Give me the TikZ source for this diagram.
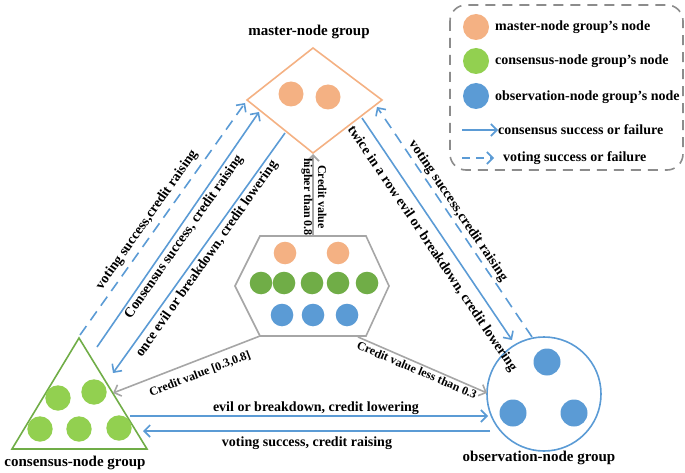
\documentclass[tikz,border=0pt]{standalone}
\usepackage{fontspec}
\setmainfont{Liberation Serif}
\usetikzlibrary{arrows.meta}

\definecolor{peach}{HTML}{F4B183}
\definecolor{leaf}{HTML}{92D050}
\definecolor{moss}{HTML}{70AD47}
\definecolor{sky}{HTML}{5B9BD5}
\definecolor{ash}{HTML}{A6A6A6}
\definecolor{slate}{HTML}{8C8C8C}

\tikzset{
	flow/.style={line width=1.6pt, color=sky, -{Straight Barb[length=6pt,width=12pt]}},
	vote/.style={flow, dash pattern=on 11pt off 7pt},
	credit/.style={line width=1.6pt, color=ash, -{Straight Barb[length=6pt,width=12pt]}},
	grouptext/.style={font=\fontsize{15}{17}\selectfont\bfseries, inner sep=0pt},
	edgetext/.style={font=\fontsize{14}{16}\selectfont\bfseries, inner sep=0pt},
	credittext/.style={font=\fontsize{12}{14}\selectfont\bfseries, inner sep=0pt, align=center},
	legendtext/.style={font=\fontsize{14}{16}\selectfont\bfseries, inner sep=0pt, anchor=west},
}

\begin{document}
\begin{tikzpicture}[x=1pt, y=-1pt]
			%%%%% START %%%%%
			\useasboundingbox (0, 0) rectangle (685, 473);
			
			% master-node group
			\draw[line width=1.6pt, color=peach] (313, 48) -- (382, 100) -- (313, 153) -- (247, 100) -- cycle;
			\fill[peach] (291, 94) circle (12.5);
			\fill[peach] (328, 97) circle (12.5);
			\node[grouptext] (lblMaster) at (309, 32) {master-node group};
			
			% consensus-node group
			\draw[line width=1.6pt, color=moss] (79, 338) -- (147, 449) -- (12, 449) -- cycle;
			\fill[leaf] (58, 398) circle (12.7);
			\fill[leaf] (94, 392) circle (12.7);
			\fill[leaf] (40, 429) circle (12.7);
			\fill[leaf] (79, 429) circle (12.7);
			\fill[leaf] (119, 428) circle (12.7);
			\node[grouptext] (lblConsensus) at (75, 463) {consensus-node group};
			
			% observation-node group
			\draw[line width=1.6pt, color=sky] (544, 394) circle (57);
			\fill[sky] (547, 362) circle (13.5);
			\fill[sky] (513, 413) circle (13.5);
			\fill[sky] (574, 413) circle (13.5);
			\node[grouptext] (lblObserve) at (539, 458) {observation-node group};
			
			% all nodes
			\draw[line width=1.6pt, color=ash] (260, 236) -- (366, 236) -- (389, 286) -- (366, 336) -- (260, 336) -- (235, 286) -- cycle;
			\fill[peach] (285, 253) circle (11.3);
			\fill[peach] (338, 253) circle (11.3);
			\fill[moss] (261, 283) circle (11.3);
			\fill[moss] (284, 283) circle (11.3);
			\fill[moss] (312, 283) circle (11.3);
			\fill[moss] (338, 283) circle (11.3);
			\fill[moss] (367, 283) circle (11.3);
			\fill[sky] (282, 315) circle (11.3);
			\fill[sky] (313, 315) circle (11.3);
			\fill[sky] (347, 315) circle (11.3);
			
			% connector ends
			\coordinate (voteLa) at (80, 335);
			\coordinate (voteLb) at (245, 103);
			\coordinate (consLa) at (97, 347);
			\coordinate (consLb) at (259, 112);
			\coordinate (onceLa) at (285, 133);
			\coordinate (onceLb) at (113, 373);
			\coordinate (twiceRa) at (362, 118);
			\coordinate (twiceRb) at (512, 340);
			\coordinate (voteRa) at (532, 337);
			\coordinate (voteRb) at (377, 107);
			\coordinate (evilBa) at (130, 416);
			\coordinate (evilBb) at (488, 416);
			\coordinate (voteBa) at (490, 431);
			\coordinate (voteBb) at (143, 431);
			\coordinate (highA) at (313, 236);
			\coordinate (highB) at (313, 154);
			\coordinate (midA) at (260, 336);
			\coordinate (midB) at (113, 393);
			\coordinate (lowA) at (358, 337);
			\coordinate (lowB) at (487, 393);
			
			% master <-> consensus
			\draw[vote] (voteLa) -- (voteLb);
			\draw[flow] (consLa) -- (consLb);
			\draw[flow] (onceLa) -- (onceLb);
			\node[edgetext, rotate=55] (lblVoteL) at (147, 220) {voting success,credit raising};
			\node[edgetext, rotate=55] (lblConsL) at (184, 237) {Consensus success, credit raising};
			\node[edgetext, rotate=55] (lblOnceL) at (207, 259) {once evil or breakdown, credit lowering};
			
			% master <-> observation
			\draw[flow] (twiceRa) -- (twiceRb);
			\draw[vote] (voteRa) -- (voteRb);
			\node[edgetext, rotate=-56] (lblTwiceR) at (432, 249) {twice in a row evil or breakdown, credit lowering};
			\node[edgetext, rotate=-56] (lblVoteR) at (458, 211) {voting success,credit raising};
			
			% consensus <-> observation
			\draw[flow] (evilBa) -- (evilBb);
			\draw[flow] (voteBa) -- (voteBb);
			\node[edgetext] (lblEvilB) at (316, 408) {evil or breakdown, credit lowering};
			\node[edgetext] (lblVoteB) at (307, 443) {voting success, credit raising};
			
			% credit value
			\draw[credit] (highA) -- (highB);
			\draw[credit] (midA) -- (midB);
			\draw[credit] (lowA) -- (lowB);
			\node[credittext, rotate=-90] (lblHigh) at (314, 197) {Credit value\\higher than 0.8};
			\node[credittext, rotate=21] (lblMid) at (200, 374) {Credit value [0.3,0.8]};
			\node[credittext, rotate=-23] (lblLow) at (417, 370) {Credit value less than 0.3};
			
			% legend
			\draw[line width=1.6pt, color=slate, dash pattern=on 10pt off 7pt, rounded corners=16pt] (450, 5) rectangle (683, 170);
			\fill[peach] (476, 27) circle (13);
			\node[legendtext] (lgMaster) at (495, 27) {master-node group's node};
			\fill[leaf] (476, 61) circle (13);
			\node[legendtext] (lgConsensus) at (495, 61) {consensus-node group's node};
			\fill[sky] (476, 96) circle (13);
			\node[legendtext] (lgObserve) at (495, 97) {observation-node group's node};
			\coordinate (lgFlowA) at (462, 130);
			\node[legendtext] (lgFlow) at (498, 130) {consensus success or failure};
			\draw[flow] (lgFlowA) -- (lgFlow.west);
			\coordinate (lgVoteA) at (462, 158);
			\node[legendtext] (lgVote) at (503, 158) {voting success or failure};
			\draw[vote, dash pattern=on 8pt off 6pt] (lgVoteA) -- ([xshift=-9pt]lgVote.west);
			
			%%%%% END %%%%%
		\end{tikzpicture}
\end{document}
